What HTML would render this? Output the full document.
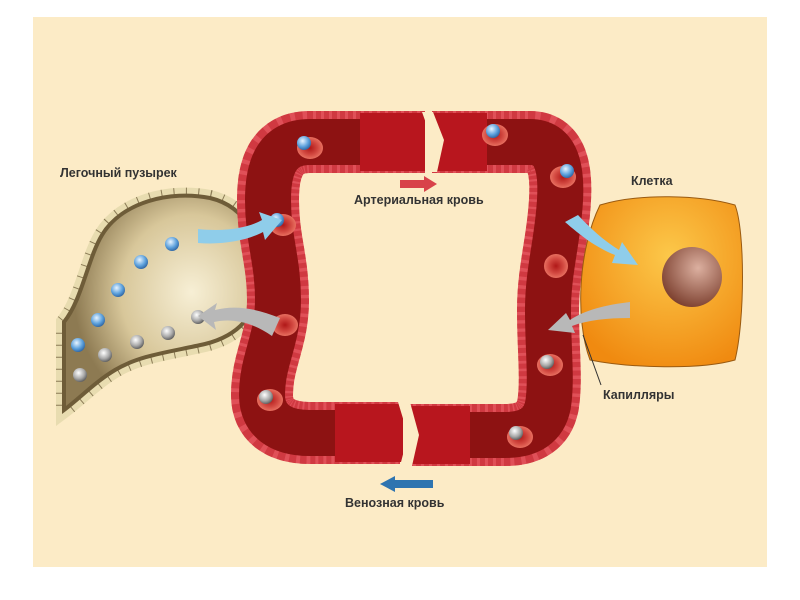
<!DOCTYPE html>
<html><head><meta charset="utf-8"><style>
html,body{margin:0;padding:0;background:#fff;width:800px;height:600px;overflow:hidden}
svg{display:block}
text{font-family:"Liberation Sans",sans-serif;font-weight:bold;fill:#333;font-size:12.5px}
</style></head><body>
<svg width="800" height="600" viewBox="0 0 800 600">
<defs>
<radialGradient id="lung" cx="0.65" cy="0.45" r="0.6"><stop offset="0" stop-color="#f7efd5"/><stop offset="0.6" stop-color="#d8c79a"/><stop offset="1" stop-color="#8d7a52"/></radialGradient>
<radialGradient id="cell" cx="0.55" cy="0.35" r="0.7"><stop offset="0" stop-color="#fcc84a"/><stop offset="1" stop-color="#f08a10"/></radialGradient>
<radialGradient id="nuc" cx="0.6" cy="0.35" r="0.7"><stop offset="0" stop-color="#dcb0a0"/><stop offset="1" stop-color="#7a3d2c"/></radialGradient>
<radialGradient id="bl" cx="0.4" cy="0.35" r="0.7"><stop offset="0" stop-color="#e8f4ff"/><stop offset="0.6" stop-color="#5ba0dc"/><stop offset="1" stop-color="#2b5f9c"/></radialGradient>
<radialGradient id="gr" cx="0.4" cy="0.35" r="0.7"><stop offset="0" stop-color="#fff"/><stop offset="0.6" stop-color="#a8a8a8"/><stop offset="1" stop-color="#555"/></radialGradient>
<radialGradient id="rbc" cx="0.5" cy="0.5" r="0.5"><stop offset="0" stop-color="#b01818"/><stop offset="0.6" stop-color="#d24840"/><stop offset="1" stop-color="#e87060"/></radialGradient>
<path id="lv" fill="none" d="M425,142 L310,142 C275,142 268,170 268,200 C268,240 278,260 278,300 C278,340 262,360 262,395 C262,420 280,433 310,433 L400,433"/>
<path id="rv" fill="none" d="M432,142 L530,142 C555,142 562,165 560,200 C558,240 548,270 548,310 C548,350 552,380 548,405 C544,425 530,435 505,435 L410,435"/>
<path id="lungp" d="M64,322 C82,300 88,258 102,235 C122,202 170,190 210,198 C248,207 262,242 260,280 C258,315 238,336 205,344 C170,352 140,355 115,370 C95,382 80,398 64,410 Z"/>
</defs>
<rect x="33" y="17" width="734" height="550" fill="#fcebc6"/>

<!-- lung -->
<use href="#lungp" fill="#e8dcb0" stroke="#e8dcb0" stroke-width="16"/>
<use href="#lungp" fill="none" stroke="#8a7a55" stroke-width="16" stroke-dasharray="1 11" />
<use href="#lungp" fill="url(#lung)" stroke="#6e5c38" stroke-width="4"/>

<!-- vessels -->
<use href="#lv" stroke="#e05058" stroke-width="62"/>
<use href="#lv" stroke="#c42a32" stroke-width="62" stroke-dasharray="5 3" opacity="0.6"/>
<use href="#lv" stroke="#8d1212" stroke-width="46"/>
<use href="#rv" stroke="#e05058" stroke-width="62"/>
<use href="#rv" stroke="#c42a32" stroke-width="62" stroke-dasharray="5 3" opacity="0.6"/>
<use href="#rv" stroke="#8d1212" stroke-width="46"/>
<rect x="360" y="113" width="65" height="58" fill="#b8161e"/>
<rect x="432" y="113" width="55" height="58" fill="#b8161e"/>
<rect x="335" y="404" width="68" height="58" fill="#b8161e"/>
<rect x="410" y="406" width="60" height="58" fill="#b8161e"/>
<path d="M422,112 L432,140 L425,172 L437,172 L444,140 L433,112 Z" fill="#fcebc6"/>
<path d="M398,402 L408,435 L400,466 L412,466 L419,435 L410,402 Z" fill="#fcebc6"/>

<!-- cell -->
<path d="M600,205 C640,193 700,195 735,205 C745,230 745,320 735,360 C700,370 630,368 590,360 C575,320 578,250 600,205 Z" fill="url(#cell)" stroke="#9a5a10" stroke-width="1"/>
<circle cx="692" cy="277" r="30" fill="url(#nuc)"/>

<!-- rbcs -->
<g fill="url(#rbc)">
<ellipse cx="310" cy="148" rx="13" ry="11"/><ellipse cx="283" cy="225" rx="13" ry="11"/><ellipse cx="285" cy="325" rx="13" ry="11"/><ellipse cx="270" cy="400" rx="13" ry="11"/>
<ellipse cx="495" cy="135" rx="13" ry="11"/><ellipse cx="563" cy="177" rx="13" ry="11"/><ellipse cx="556" cy="266" rx="12" ry="12"/><ellipse cx="550" cy="365" rx="13" ry="11"/><ellipse cx="520" cy="437" rx="13" ry="11"/>
</g>
<g fill="url(#bl)">
<circle cx="304" cy="143" r="7"/><circle cx="277" cy="220" r="7"/><circle cx="493" cy="131" r="7"/><circle cx="567" cy="171" r="7"/>
<circle cx="172" cy="244" r="7"/><circle cx="141" cy="262" r="7"/><circle cx="118" cy="290" r="7"/><circle cx="98" cy="320" r="7"/><circle cx="78" cy="345" r="7"/>
</g>
<g fill="url(#gr)">
<circle cx="266" cy="397" r="7"/><circle cx="547" cy="362" r="7"/><circle cx="516" cy="433" r="7"/>
<circle cx="198" cy="317" r="7"/><circle cx="168" cy="333" r="7"/><circle cx="137" cy="342" r="7"/><circle cx="105" cy="355" r="7"/><circle cx="80" cy="375" r="7"/>
</g>

<!-- flow arrows -->
<path d="M198,229 C225,232 248,228 262,220 L259,212 L282,220 L265,240 L263,232 C248,240 225,245 198,243 Z" fill="#8fcdea"/>
<path d="M280,318 C255,308 235,305 215,310 L217,303 L198,316 L216,330 L214,322 C232,318 252,322 272,336 Z" fill="#b8b8b8"/>
<path d="M565,222 C580,235 595,247 615,255 L612,263 L638,265 L622,242 L619,250 C603,240 590,228 578,215 Z" fill="#8fcdea"/>
<path d="M630,302 C605,305 585,310 570,320 L566,313 L548,330 L575,333 L572,326 C588,320 607,318 630,318 Z" fill="#b8b8b8"/>

<!-- labels -->
<path d="M400,180 L424,180 L424,176 L437,184 L424,192 L424,188 L400,188 Z" fill="#d8424a"/>
<text x="354" y="204">Артериальная кровь</text>
<path d="M433,480 L395,480 L395,476 L380,484 L395,492 L395,488 L433,488 Z" fill="#2e74b0"/>
<text x="345" y="507">Венозная кровь</text>
<text x="60" y="177">Легочный пузырек</text>
<text x="631" y="185">Клетка</text>
<text x="603" y="399">Капилляры</text>
<line x1="601" y1="385" x2="583" y2="335" stroke="#333" stroke-width="1"/>
</svg>
</body></html>
